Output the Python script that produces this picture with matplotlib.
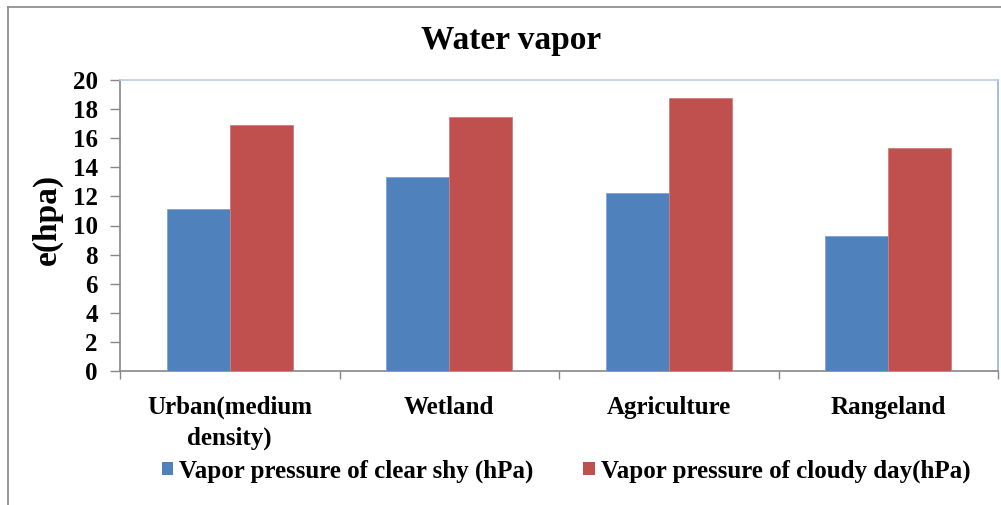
import matplotlib
matplotlib.use("Agg")
import matplotlib.pyplot as plt
from matplotlib.patches import Patch
from matplotlib.lines import Line2D

# Land-cover classes and water vapour pressure (hPa)
categories = ["Urban(medium\ndensity)", "Wetland", "Agriculture", "Rangeland"]
clear_sky = [11.1, 13.35, 12.25, 9.3]
cloudy_day = [16.9, 17.45, 18.75, 15.35]
series_names = ["Vapor pressure of clear shy (hPa)", "Vapor pressure of cloudy day(hPa)"]
y_ticks = [0, 2, 4, 6, 8, 10, 12, 14, 16, 18, 20]

BLUE = "#4F81BD"
RED = "#C0504D"
FONT = ["Liberation Serif", "DejaVu Serif"]

plt.rcParams["font.family"] = FONT
plt.rcParams["font.weight"] = "bold"

W, H = 1001, 505
fig = plt.figure(figsize=(W / 100, H / 100), dpi=100)
ax = fig.add_axes([120 / W, 1 - 371 / H, (998 - 120) / W, (371 - 80) / H])

n = len(categories)
xs = list(range(n))
bw = 0.287
ax.bar([x - bw / 2 for x in xs], clear_sky, width=bw, color=BLUE,
       edgecolor="#7FA3D0", linewidth=0.6, zorder=3)
ax.bar([x + bw / 2 for x in xs], cloudy_day, width=bw, color=RED,
       edgecolor="#D07E7C", linewidth=0.6, zorder=3)

ax.set_xlim(-0.5, n - 0.5)
ax.set_ylim(0, 20)
ax.set_yticks(y_ticks)
ax.set_yticklabels([str(t) for t in y_ticks], fontsize=18, fontweight="bold")

ax.set_xticks(xs)
ax.set_xticklabels(categories, fontsize=18, fontweight="bold", linespacing=1.4)
ax.set_xticks([x - 0.5 for x in range(n + 1)], minor=True)
ax.tick_params(axis="x", which="major", length=0, pad=18)
ax.tick_params(axis="x", which="minor", length=6, color="#868686", width=1)
ax.tick_params(axis="y", which="major", length=7, color="#868686", width=1, pad=9)

for side in ("left", "bottom"):
    ax.spines[side].set_color("#868686")
    ax.spines[side].set_linewidth(1.2)
ax.spines["top"].set_color("#B9CDE5")
ax.spines["top"].set_linewidth(1.2)
ax.spines["right"].set_color("#8EB4E3")
ax.spines["right"].set_linewidth(1.2)

ax.set_ylabel("e(hpa)", fontsize=24, fontweight="bold")
ax.yaxis.set_label_coords((63 - 120) / (998 - 120), 0.52)

fig.text(511 / W, 1 - 40 / H, "Water vapor", ha="center", va="center",
         fontsize=24, fontweight="bold")

handles = [Patch(facecolor=BLUE, edgecolor="none"),
           Patch(facecolor=RED, edgecolor="none")]
fig.legend(handles, series_names, loc="center", bbox_to_anchor=(566 / W, 1 - 471 / H),
           ncol=2, frameon=False, prop={"family": FONT, "weight": "bold", "size": 18},
           handlelength=0.45, handleheight=0.45, handletextpad=0.25, columnspacing=2.0)

# outer chart frame
fig.add_artist(Line2D([8 / W, 1], [1 - 7 / H, 1 - 7 / H], color="#888888", lw=1.2,
                      transform=fig.transFigure))
fig.add_artist(Line2D([8 / W, 8 / W], [0, 1 - 7 / H], color="#888888", lw=1.2,
                      transform=fig.transFigure))

fig.savefig("out.png", dpi=100)
